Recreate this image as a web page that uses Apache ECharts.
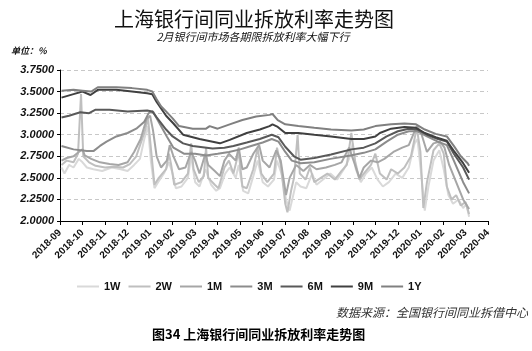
<!DOCTYPE html>
<html>
<head>
<meta charset="utf-8">
<script src="https://cdn.jsdelivr.net/npm/echarts@6/dist/echarts.min.js"></script>
<style>
	html, body { margin: 0; padding: 0; background: #fff; }
	#chart { width: 532px; height: 351px; }
</style>
</head>
<body>
<div id="chart"></div>
<script>
	// 横轴月份刻度
	const monthLabels = ["2018-09", "2018-10", "2018-11", "2018-12", "2019-01", "2019-02", "2019-03", "2019-04", "2019-05", "2019-06",
		"2019-07", "2019-08", "2019-09", "2019-10", "2019-11", "2019-12", "2020-01", "2020-02", "2020-03", "2020-04"];
	const yTicks = [2.0, 3.75, 0.25]; // min, max, interval

	const names = ["1W", "2W", "1M", "3M", "6M", "9M", "1Y"];
	const colors = ["#d9d9d9", "#bfbfbf", "#a6a6a6", "#8c8c8c", "#595959", "#404040", "#808080"];

	// 各期限 Shibor（%）
	const s1W = [["2018-09-03",2.62],["2018-09-07",2.55],["2018-09-13",2.65],["2018-09-19",2.62],["2018-09-26",2.72],["2018-10-01",2.68],["2018-10-07",2.62],["2018-10-16",2.60],["2018-10-28",2.58],["2018-11-10",2.62],["2018-11-22",2.60],["2018-12-01",2.58],["2018-12-10",2.65],["2018-12-18",2.72],["2018-12-24",2.95],["2018-12-29",3.10],["2019-01-02",2.70],["2019-01-07",2.38],["2019-01-12",2.45],["2019-01-20",2.55],["2019-01-27",2.68],["2019-02-01",2.55],["2019-02-05",2.38],["2019-02-12",2.40],["2019-02-20",2.50],["2019-02-24",2.75],["2019-03-01",2.45],["2019-03-07",2.40],["2019-03-15",2.60],["2019-03-23",2.42],["2019-03-30",2.35],["2019-04-04",2.38],["2019-04-11",2.55],["2019-04-17",2.62],["2019-04-25",2.50],["2019-04-29",2.65],["2019-05-05",2.35],["2019-05-12",2.32],["2019-05-19",2.52],["2019-05-25",2.70],["2019-06-01",2.45],["2019-06-08",2.40],["2019-06-16",2.48],["2019-06-20",2.70],["2019-06-26",2.55],["2019-07-02",2.25],["2019-07-07",2.12],["2019-07-12",2.30],["2019-07-16",2.45],["2019-07-22",2.40],["2019-07-30",2.38],["2019-08-07",2.55],["2019-08-13",2.42],["2019-08-22",2.48],["2019-09-01",2.55],["2019-09-10",2.48],["2019-09-19",2.60],["2019-09-26",2.72],["2019-10-01",2.90],["2019-10-05",2.60],["2019-10-12",2.45],["2019-10-19",2.55],["2019-10-27",2.62],["2019-11-04",2.48],["2019-11-11",2.40],["2019-11-19",2.45],["2019-11-28",2.55],["2019-12-07",2.50],["2019-12-16",2.62],["2019-12-24",2.90],["2019-12-28",2.95],["2020-01-02",2.55],["2020-01-07",2.12],["2020-01-12",2.40],["2020-01-19",2.70],["2020-01-27",2.82],["2020-02-02",2.60],["2020-02-08",2.30],["2020-02-14",2.20],["2020-02-21",2.25],["2020-02-27",2.15],["2020-03-02",2.20],["2020-03-06",2.05]];
	const s2W = [["2018-09-03",2.65],["2018-09-10",2.70],["2018-09-19",2.68],["2018-09-25",2.78],["2018-09-29",3.47],["2018-10-02",2.75],["2018-10-10",2.68],["2018-10-19",2.64],["2018-11-01",2.62],["2018-11-13",2.63],["2018-11-25",2.62],["2018-12-04",2.66],["2018-12-13",2.75],["2018-12-19",2.90],["2018-12-25",3.05],["2018-12-29",3.20],["2019-01-02",2.85],["2019-01-07",2.42],["2019-01-13",2.50],["2019-01-23",2.60],["2019-01-27",2.78],["2019-01-30",2.65],["2019-02-03",2.42],["2019-02-12",2.45],["2019-02-20",2.55],["2019-02-24",2.90],["2019-02-27",2.60],["2019-03-06",2.45],["2019-03-13",2.52],["2019-03-16",2.85],["2019-03-19",2.50],["2019-03-28",2.42],["2019-04-02",2.38],["2019-04-10",2.62],["2019-04-16",2.70],["2019-04-22",2.55],["2019-04-29",2.80],["2019-05-04",2.40],["2019-05-10",2.38],["2019-05-19",2.60],["2019-05-25",2.85],["2019-05-30",2.55],["2019-06-07",2.45],["2019-06-16",2.55],["2019-06-20",2.85],["2019-06-25",2.65],["2019-07-01",2.20],["2019-07-04",2.10],["2019-07-09",2.35],["2019-07-13",2.50],["2019-07-18",3.00],["2019-07-21",2.55],["2019-07-29",2.48],["2019-08-04",2.62],["2019-08-10",2.45],["2019-08-19",2.50],["2019-08-28",2.55],["2019-09-07",2.48],["2019-09-16",2.58],["2019-09-23",2.65],["2019-09-29",3.02],["2019-10-04",2.70],["2019-10-10",2.48],["2019-10-16",2.55],["2019-10-26",2.65],["2019-11-01",2.78],["2019-11-07",2.55],["2019-11-16",2.48],["2019-11-22",2.60],["2019-12-01",2.55],["2019-12-10",2.62],["2019-12-19",2.75],["2019-12-27",3.08],["2020-01-01",2.80],["2020-01-05",2.15],["2020-01-10",2.45],["2020-01-19",2.82],["2020-01-27",2.90],["2020-02-02",2.78],["2020-02-06",2.40],["2020-02-12",2.25],["2020-02-18",2.30],["2020-02-24",2.18],["2020-03-01",2.22],["2020-03-06",2.08]];
	const s1M = [["2018-09-03",2.70],["2018-09-10",2.73],["2018-09-19",2.75],["2018-09-26",2.80],["2018-10-01",2.83],["2018-10-04",2.76],["2018-10-13",2.72],["2018-10-25",2.68],["2018-11-07",2.66],["2018-11-19",2.65],["2018-12-01",2.68],["2018-12-10",2.80],["2018-12-19",2.95],["2018-12-27",3.18],["2019-01-01",3.22],["2019-01-05",3.05],["2019-01-10",2.75],["2019-01-16",2.62],["2019-01-24",2.70],["2019-01-28",2.88],["2019-02-02",2.75],["2019-02-09",2.60],["2019-02-17",2.62],["2019-02-24",2.80],["2019-03-01",2.70],["2019-03-07",2.55],["2019-03-15",2.78],["2019-03-19",2.65],["2019-03-28",2.58],["2019-04-04",2.52],["2019-04-10",2.70],["2019-04-16",2.78],["2019-04-25",2.70],["2019-04-29",2.85],["2019-05-04",2.60],["2019-05-10",2.62],["2019-05-19",2.78],["2019-05-27",2.88],["2019-06-01",2.70],["2019-06-10",2.62],["2019-06-19",2.82],["2019-06-25",2.70],["2019-07-02",2.30],["2019-07-07",2.50],["2019-07-16",2.65],["2019-07-26",2.58],["2019-08-04",2.65],["2019-08-13",2.60],["2019-08-26",2.62],["2019-09-07",2.65],["2019-09-16",2.68],["2019-09-26",2.85],["2019-10-02",2.70],["2019-10-10",2.50],["2019-10-16",2.62],["2019-10-26",2.70],["2019-11-04",2.68],["2019-11-13",2.72],["2019-11-25",2.80],["2019-12-07",2.85],["2019-12-16",2.88],["2019-12-27",3.10],["2020-01-02",3.02],["2020-01-10",2.80],["2020-01-19",2.90],["2020-01-28",2.92],["2020-02-03",2.85],["2020-02-09",2.65],["2020-02-18",2.45],["2020-02-27",2.25],["2020-03-06",2.14]];
	const s3M = [["2018-09-03",2.87],["2018-09-19",2.83],["2018-10-07",2.81],["2018-10-16",2.81],["2018-10-25",2.87],["2018-11-03",2.92],["2018-11-16",2.98],["2018-12-01",3.02],["2018-12-13",3.07],["2018-12-24",3.15],["2018-12-30",3.25],["2019-01-05",3.27],["2019-01-14",3.13],["2019-01-24",2.98],["2019-02-02",2.85],["2019-02-15",2.78],["2019-03-01",2.78],["2019-03-16",2.76],["2019-04-01",2.78],["2019-04-16",2.80],["2019-05-01",2.83],["2019-05-16",2.87],["2019-06-01",2.91],["2019-06-13",2.95],["2019-06-22",2.92],["2019-07-01",2.80],["2019-07-10",2.70],["2019-07-22",2.67],["2019-08-10",2.68],["2019-09-01",2.72],["2019-09-28",2.76],["2019-10-16",2.79],["2019-11-01",2.83],["2019-11-16",2.92],["2019-12-01",3.00],["2019-12-16",3.04],["2019-12-28",3.04],["2020-01-10",2.98],["2020-01-25",2.92],["2020-02-06",2.88],["2020-02-15",2.70],["2020-02-27",2.45],["2020-03-06",2.32]];
	const s6M = [["2018-09-03",3.20],["2018-09-13",3.22],["2018-09-28",3.26],["2018-10-10",3.25],["2018-10-19",3.29],["2018-11-07",3.29],["2018-12-01",3.27],["2018-12-28",3.28],["2019-01-04",3.27],["2019-01-10",3.20],["2019-01-23",3.06],["2019-02-01",2.98],["2019-02-14",2.90],["2019-02-26",2.87],["2019-03-25",2.84],["2019-04-10",2.85],["2019-04-22",2.87],["2019-05-10",2.91],["2019-05-28",2.95],["2019-06-13",3.00],["2019-06-22",2.97],["2019-07-01",2.86],["2019-07-13",2.75],["2019-07-22",2.71],["2019-08-10",2.73],["2019-09-02",2.77],["2019-09-29",2.83],["2019-10-16",2.85],["2019-11-01",2.90],["2019-11-16",2.98],["2019-12-01",3.04],["2019-12-16",3.07],["2019-12-28",3.06],["2020-01-10",3.00],["2020-01-25",2.95],["2020-02-06",2.92],["2020-02-15",2.78],["2020-02-27",2.62],["2020-03-06",2.48]];
	const s9M = [["2018-09-03",3.43],["2018-09-19",3.47],["2018-10-01",3.50],["2018-10-12",3.46],["2018-10-22",3.52],["2018-11-16",3.52],["2018-12-07",3.50],["2018-12-28",3.48],["2019-01-04",3.47],["2019-01-10",3.38],["2019-01-23",3.22],["2019-02-02",3.13],["2019-02-14",3.00],["2019-03-07",2.95],["2019-04-04",2.90],["2019-04-17",2.94],["2019-05-10",3.02],["2019-05-28",3.06],["2019-06-10",3.10],["2019-06-14",3.12],["2019-06-21",3.09],["2019-07-01",3.02],["2019-07-19",3.02],["2019-08-10",3.00],["2019-09-02",2.98],["2019-09-29",2.95],["2019-10-16",2.95],["2019-11-01",2.98],["2019-11-07",3.02],["2019-11-22",3.07],["2019-12-10",3.09],["2019-12-26",3.08],["2020-01-07",3.02],["2020-01-22",2.97],["2020-02-06",2.93],["2020-02-16",2.80],["2020-02-27",2.67],["2020-03-06",2.56]];
	const s1Y = [["2018-09-03",3.51],["2018-09-19",3.52],["2018-10-01",3.51],["2018-10-13",3.50],["2018-10-22",3.55],["2018-11-16",3.55],["2018-12-07",3.54],["2018-12-28",3.52],["2019-01-04",3.50],["2019-01-10",3.41],["2019-01-16",3.33],["2019-01-23",3.27],["2019-02-01",3.19],["2019-02-09",3.10],["2019-02-26",3.07],["2019-03-16",3.07],["2019-03-21",3.10],["2019-04-01",3.07],["2019-04-17",3.12],["2019-05-04",3.17],["2019-05-23",3.21],["2019-06-10",3.23],["2019-06-14",3.24],["2019-06-21",3.17],["2019-07-01",3.12],["2019-07-19",3.10],["2019-08-10",3.08],["2019-09-02",3.06],["2019-09-29",3.05],["2019-10-16",3.06],["2019-11-01",3.10],["2019-11-22",3.12],["2019-12-10",3.13],["2019-12-26",3.12],["2020-01-07",3.06],["2020-01-22",3.01],["2020-02-06",2.98],["2020-02-15",2.87],["2020-02-24",2.75],["2020-03-04",2.67],["2020-03-06",2.64]];

	const allData = [s1W, s2W, s1M, s3M, s6M, s9M, s1Y];

	// 日期 -> 月份序号（2018-09 为 0）
	function toMonthPos(d) {
		const [y, m, dd] = d.split("-").map(Number);
		const days = new Date(y, m, 0).getDate();
		return (y - 2018) * 12 + (m - 9) + (dd - 1) / days;
	}

	const myChart = echarts.init(document.getElementById("chart"));

	const labelFont = "'Liberation Sans', Arial, sans-serif";
	const cjkFont = "'Noto Sans CJK SC', sans-serif";

	const option = {
		animation: false,
		backgroundColor: "#fff",
		grid: { left: 60, right: 44, top: 70, bottom: 130 },
		graphic: [
			{ type: "text", x: 254, y: 19, style: { text: "上海银行间同业拆放利率走势图", font: "normal 20px " + cjkFont, fill: "#111", textAlign: "center", textVerticalAlign: "middle" } },
			{ type: "text", x: 253, y: 37, style: { text: "2月银行间市场各期限拆放利率大幅下行", font: "italic 11px " + cjkFont, fill: "#111", textAlign: "center", textVerticalAlign: "middle" } },
			{ type: "text", x: 11, y: 51, style: { text: "单位：%", font: "italic bold 9px " + cjkFont, fill: "#111", textVerticalAlign: "middle" } },
			{ type: "text", x: 528, y: 312, style: { text: "数据来源：全国银行间同业拆借中心", font: "italic 12px " + cjkFont, fill: "#333", textAlign: "right", textVerticalAlign: "middle" } },
			{ type: "text", x: 152, y: 334, style: { text: "图34 上海银行间同业拆放利率走势图", font: "bold 13px " + cjkFont, fill: "#000", textVerticalAlign: "middle" } }
		],
		legend: {
			left: 77,
			top: 281,
			padding: 0,
			icon: "rect",
			itemWidth: 22,
			itemHeight: 2,
			itemGap: 8,
			data: names,
			textStyle: { fontFamily: labelFont, fontWeight: "bold", fontSize: 11, color: "#111" }
		},
		xAxis: {
			type: "value",
			min: 0,
			max: 19,
			interval: 1,
			axisLine: { lineStyle: { color: "#000", width: 1 } },
			axisTick: { show: true, length: 4, lineStyle: { color: "#000" } },
			splitLine: { show: false },
			axisLabel: {
				rotate: 45,
				margin: 10,
				fontFamily: labelFont,
				fontWeight: "bold",
				fontSize: 10,
				color: "#111",
				formatter: v => monthLabels[v]
			}
		},
		yAxis: {
			type: "value",
			min: yTicks[0],
			max: yTicks[1],
			interval: yTicks[2],
			axisLine: { show: true, lineStyle: { color: "#000", width: 1 } },
			axisTick: { show: true, length: 3, lineStyle: { color: "#000" } },
			splitLine: { lineStyle: { color: "#c8c8c8", type: [4, 3] } },
			axisLabel: {
				margin: 6,
				fontFamily: labelFont,
				fontWeight: "bold",
				fontStyle: "italic",
				fontSize: 11,
				color: "#111",
				formatter: v => v.toFixed(4)
			}
		},
		series: names.map((n, i) => ({
			name: n,
			type: "line",
			symbol: "none",
			showSymbol: false,
			lineStyle: { width: 2, color: colors[i] },
			itemStyle: { color: colors[i] },
			data: allData[i].map(p => [toMonthPos(p[0]), p[1]])
		}))
	};

	myChart.setOption(option);
</script>
</body>
</html>
